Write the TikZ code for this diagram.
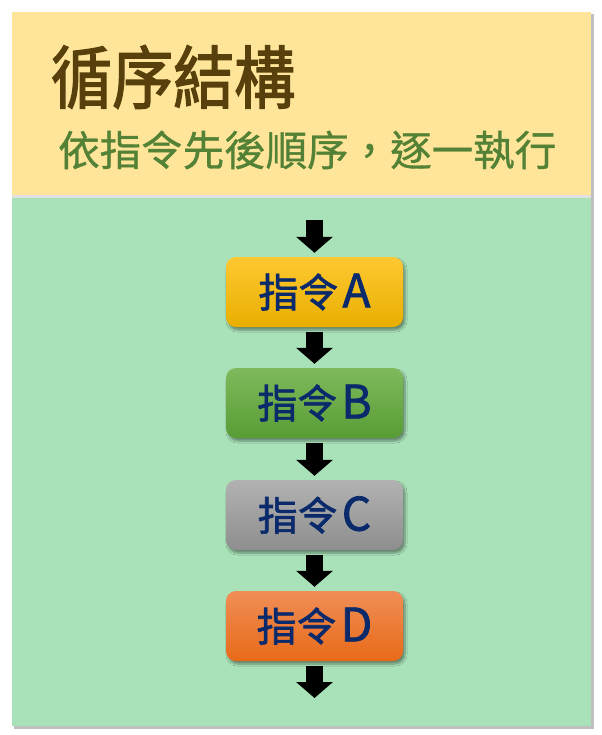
\documentclass[tikz,border=0pt]{standalone}
\usepackage{fontspec}
\setmainfont{Noto Sans CJK TC}
\newfontfamily\cjkfont[FakeBold=0.8]{Noto Sans CJK TC}
\newfontfamily\cjkbold[FakeBold=2.2]{Noto Sans CJK TC}
\newfontfamily\cjkmed[FakeBold=1.6]{Noto Sans CJK TC}
\usetikzlibrary{arrows.meta,shadows,shadows.blur}
\definecolor{panelY}{HTML}{FFE599}
\definecolor{panelG}{HTML}{A9E2B9}
\definecolor{titleC}{HTML}{57400C}
\definecolor{subC}{HTML}{538135}
\definecolor{navy}{HTML}{0B2A6B}
\newcommand{\lat}[1]{{\fontsize{46bp}{50bp}\selectfont #1}}
\tikzset{
  instr/.style={rounded corners=10bp, minimum width=177bp, minimum height=70bp,
    inner sep=0pt, text=navy, font=\cjkmed\fontsize{40bp}{46bp}\selectfont,
    blur shadow={shadow xshift=2bp, shadow yshift=-3bp, shadow blur steps=6, shadow opacity=40}},
  flowarrow/.style={line width=17bp, draw=black,
    -{Triangle[width=36bp,length=16bp]}, shorten >=4bp, shorten <=5bp},
}
\begin{document}
\begin{tikzpicture}[x=1bp,y=-1bp]
\useasboundingbox (0,0) rectangle (602,735);
\fill[white] (0,0) rectangle (602,735);
% panels
\fill[black!25] (14,14) rectangle (594,729);
\fill[panelY] (12,12) rectangle (591,195);
\fill[black!12] (12,195) rectangle (591,198);
\fill[panelG] (12,198) rectangle (591,726);
% title
\node[anchor=west, text=titleC, font=\cjkbold\fontsize{61bp}{70bp}\selectfont, inner sep=0pt] (title) at (51,77)
  {\scalebox{1}[1.12]{循序結構}};
\node[anchor=west, text=subC, font=\cjkfont\fontsize{41.5bp}{46bp}\selectfont, inner sep=0pt] (sub) at (58,150) {依指令先後順序，逐一執行};
% boxes
\node[instr, top color={rgb,255:red,255;green,200;blue,50}, bottom color={rgb,255:red,232;green,175;blue,0}] (A) at (314.5,292) {指令\hspace{4bp}\lat{A}};
\node[instr, top color={rgb,255:red,126;green,186;blue,92}, bottom color={rgb,255:red,88;green,156;blue,52}] (B) at (314.5,403) {指令\hspace{4bp}\lat{B}};
\node[instr, top color={rgb,255:red,178;green,178;blue,178}, bottom color={rgb,255:red,142;green,142;blue,142}] (C) at (314.5,515) {指令\hspace{4bp}\lat{C}};
\node[instr, top color={rgb,255:red,240;green,142;blue,86}, bottom color={rgb,255:red,232;green,106;blue,24}] (D) at (314.5,626) {指令\hspace{4bp}\lat{D}};
\coordinate (start) at (314.5,220);
\coordinate (end) at (314.5,702);
\draw[flowarrow, shorten <=0pt] (start) -- (A.north);
\draw[flowarrow] (A.south) -- (B.north);
\draw[flowarrow] (B.south) -- (C.north);
\draw[flowarrow] (C.south) -- (D.north);
\draw[flowarrow] (D.south) -- (end);
\end{tikzpicture}
\end{document}
